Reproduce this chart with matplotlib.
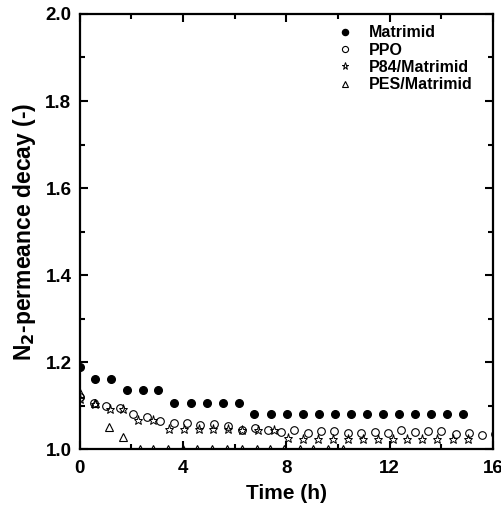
import matplotlib
matplotlib.use("Agg")
import matplotlib.pyplot as plt
from matplotlib.ticker import MultipleLocator

plt.rcParams['font.family'] = ['Liberation Sans', 'DejaVu Sans']
plt.rcParams['font.weight'] = 'bold'

# Matrimid
t_matrimid = [0.0, 0.58, 1.2, 1.83, 2.43, 3.03, 3.65, 4.29, 4.91, 5.53, 6.15,
              6.76, 7.39, 8.01, 8.63, 9.25, 9.87, 10.49, 11.11, 11.73, 12.35,
              12.97, 13.59, 14.21, 14.83]
v_matrimid = [1.189, 1.161, 1.161, 1.135, 1.135, 1.135, 1.107, 1.107, 1.107, 1.107, 1.107,
              1.080, 1.080, 1.080, 1.080, 1.080, 1.080, 1.080, 1.080, 1.080, 1.080,
              1.080, 1.080, 1.080, 1.080]

# PPO
t_ppo = [0.0, 0.53, 1.02, 1.54, 2.05, 2.6, 3.11, 3.63, 4.15, 4.66, 5.18, 5.75,
         6.27, 6.78, 7.3, 7.79, 8.29, 8.82, 9.34, 9.86, 10.37, 10.9, 11.42,
         11.94, 12.45, 12.97, 13.49, 14.0, 14.55, 15.06, 15.58, 16.08]
v_ppo = [1.12, 1.107, 1.100, 1.094, 1.080, 1.073, 1.065, 1.059, 1.061, 1.055, 1.057, 1.054,
         1.045, 1.049, 1.045, 1.040, 1.045, 1.037, 1.042, 1.042, 1.036, 1.036, 1.040,
         1.038, 1.044, 1.040, 1.041, 1.041, 1.034, 1.036, 1.032, 1.034]

# P84/Matrimid
t_p84 = [0.0, 0.57, 1.18, 1.69, 2.27, 2.83, 3.44, 4.02, 4.6, 5.16, 5.75, 6.3,
         6.89, 7.53, 8.07, 8.66, 9.24, 9.82, 10.4, 10.97, 11.55, 12.13, 12.69,
         13.27, 13.85, 14.46, 15.04]
v_p84 = [1.115, 1.104, 1.092, 1.092, 1.068, 1.068, 1.046, 1.047, 1.047, 1.047, 1.047, 1.045,
         1.045, 1.045, 1.025, 1.024, 1.024, 1.024, 1.024, 1.024, 1.024, 1.024, 1.024,
         1.024, 1.024, 1.024, 1.024]

# PES/Matrimid
t_pes = [0.0, 0.57, 1.14, 1.67, 2.33, 2.84, 3.42, 4.0, 4.52, 5.1, 5.69, 6.27,
         6.85, 7.36, 7.92, 8.53, 9.04, 9.62, 10.2]
v_pes = [1.13, 1.107, 1.051, 1.027, 1.0, 1.0, 1.0, 1.0, 1.0, 1.0, 1.0, 1.0,
         1.0, 1.0, 1.0, 1.0, 1.0, 1.0, 1.0]

labels = ['Matrimid', 'PPO', 'P84/Matrimid', 'PES/Matrimid']
xticks = [0, 4, 8, 12, 16]
yticks = [1.0, 1.2, 1.4, 1.6, 1.8, 2.0]

fig = plt.figure(figsize=(5.02, 5.18), dpi=100)
ax = fig.add_axes([0.159, 0.133, 0.823, 0.840])

ax.plot(t_matrimid, v_matrimid, linestyle='none', marker='o', ms=5.5,
        mfc='black', mec='black', label=labels[0])
ax.plot(t_ppo, v_ppo, linestyle='none', marker='o', ms=5.5,
        mfc='none', mec='black', mew=0.8, label=labels[1])
ax.plot(t_p84, v_p84, linestyle='none', marker='*', ms=6.5,
        mfc='none', mec='black', mew=0.7, label=labels[2])
ax.plot(t_pes, v_pes, linestyle='none', marker='^', ms=6,
        mfc='none', mec='black', mew=0.8, label=labels[3])

ax.set_xlim(0, 16)
ax.set_ylim(1.0, 2.0)
ax.set_xticks(xticks)
ax.set_yticks(yticks)
ax.set_xticklabels([str(v) for v in xticks])
ax.set_yticklabels([f"{v:.1f}" for v in yticks])
ax.xaxis.set_minor_locator(MultipleLocator(2))
ax.yaxis.set_minor_locator(MultipleLocator(0.1))
ax.tick_params(which='both', direction='in', top=True, right=True, width=1.5)
ax.tick_params(which='major', length=6, labelsize=13.5, pad=6)
ax.tick_params(axis='x', which='major', pad=8)
ax.tick_params(which='minor', length=3.5)
for lab in ax.get_xticklabels() + ax.get_yticklabels():
    lab.set_fontweight('bold')
for s in ax.spines.values():
    s.set_linewidth(1.6)

ax.set_xlabel('Time (h)', fontsize=15, fontweight='bold', labelpad=5)
ax.set_ylabel('N$_\\mathbf{2}$-permeance decay (-)', fontsize=16.5, fontweight='bold', labelpad=5)

leg = ax.legend(loc='upper right', frameon=False,
                prop={'weight': 'bold', 'size': 11.5}, handletextpad=0.5,
                markerscale=0.8, labelspacing=0.15, borderaxespad=0.3,
                bbox_to_anchor=(0.978, 1.0))

fig.savefig('out.png', dpi=100)
